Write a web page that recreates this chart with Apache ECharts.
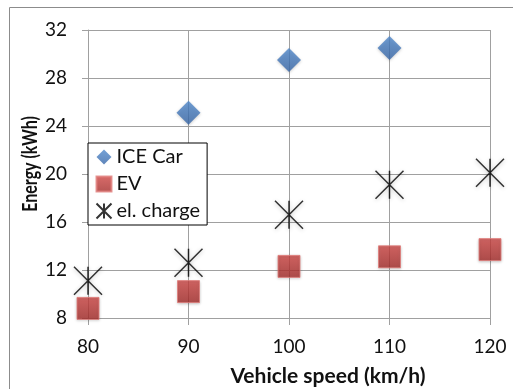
<!DOCTYPE html>
<html><head><meta charset="utf-8">
<script src="https://cdn.jsdelivr.net/npm/echarts@6/dist/echarts.min.js"></script>
<style>html,body{margin:0;padding:0;background:#fff}#c{width:513px;height:389px}</style>
</head><body><div id="c"></div>
<script>
const speeds = [80, 90, 100, 110, 120];
const iceSpeeds = [90, 100, 110];
const iceCar = [25.1, 29.5, 30.5];
const ev = [8.8, 10.2, 12.3, 13.1, 13.7];
const elCharge = [11.1, 12.6, 16.6, 19.1, 20.1];
const seriesNames = ['ICE Car', 'EV', 'el. charge'];
const xTitle = 'Vehicle speed (km/h)';
const yTitle = 'Energy (kWh)';

const FONT = 'Lato';
const chart = echarts.init(document.getElementById('c'), null, {renderer: 'canvas'});
const pair = (xs, ys) => xs.map((x, i) => [x, ys[i]]);
const starPath = 'path://M0,0L20,20M20,0L0,20M10,0L10,20';

chart.setOption({
  animation: false,
  grid: {left: 88, right: 23, top: 30, bottom: 71, containLabel: false},
  xAxis: {
    type: 'value', min: 80, max: 120, interval: 10,
    axisLine: {show: true, lineStyle: {color: '#a0a0a0', width: 1}},
    axisTick: {show: true, length: 7, lineStyle: {color: '#a0a0a0'}},
    splitLine: {show: true, lineStyle: {color: '#a0a0a0', width: 1}},
    axisLabel: {margin: 19, color: '#111', fontFamily: FONT, fontSize: 19}
  },
  yAxis: {
    type: 'value', min: 8, max: 32, interval: 4,
    axisLine: {show: true, lineStyle: {color: '#a0a0a0', width: 1}},
    axisTick: {show: true, length: 6, lineStyle: {color: '#a0a0a0'}},
    splitLine: {show: true, lineStyle: {color: '#a0a0a0', width: 1}},
    axisLabel: {margin: 21, color: '#111', fontFamily: FONT, fontSize: 19}
  },
  legend: {
    orient: 'vertical', left: 88, top: 143,
    data: seriesNames,
    backgroundColor: '#fff', borderColor: '#000', borderWidth: 1,
    padding: [4, 7, 4, 6], itemWidth: 15, itemHeight: 15, itemGap: 7, itemTextGap: 4,
    textStyle: {fontFamily: FONT, fontSize: 20, color: '#111'}
  },
  graphic: [
    {type: 'line', shape: {x1: 9.5, y1: 7.5, x2: 9.5, y2: 389}, style: {stroke: '#8c8c8c', lineWidth: 1}, silent: true},
    {type: 'line', shape: {x1: 9.5, y1: 7.5, x2: 513, y2: 7.5}, style: {stroke: '#8c8c8c', lineWidth: 1}, silent: true},
    {type: 'text', x: 328, y: 376,
      style: {text: xTitle, font: 'bold 21px ' + FONT, fill: '#111', align: 'center', verticalAlign: 'middle'}},
    {type: 'text', x: 30, y: 164, rotation: Math.PI / 2, scaleX: 1, scaleY: 1.3,
      style: {text: yTitle, font: 'bold 16px ' + FONT, fill: '#111', align: 'center', verticalAlign: 'middle'}}
  ],
  series: [
    {
      name: seriesNames[0], type: 'scatter', symbol: 'diamond', symbolSize: 24,
      data: pair(iceSpeeds, iceCar), z: 3,
      itemStyle: {
        color: new echarts.graphic.LinearGradient(0, 0, 0, 1, [{offset: 0, color: '#5089cc'}, {offset: 1, color: '#3867a8'}]),
        shadowColor: 'rgba(0,0,0,0.25)', shadowBlur: 3, shadowOffsetY: 1
      }
    },
    {
      name: seriesNames[1], type: 'scatter', symbol: 'rect', symbolSize: 22,
      data: pair(speeds, ev), z: 3,
      itemStyle: {
        color: new echarts.graphic.LinearGradient(0, 0, 0, 1, [{offset: 0, color: '#cf4644'}, {offset: 1, color: '#a32a28'}]),
        borderColor: '#e07d7b', borderWidth: 1,
        shadowColor: 'rgba(0,0,0,0.25)', shadowBlur: 3, shadowOffsetY: 1
      }
    },
    {
      name: seriesNames[2], type: 'scatter', symbol: starPath, symbolSize: 28,
      data: pair(speeds, elCharge), z: 4,
      itemStyle: {
        color: 'none', borderColor: '#000', borderWidth: 1.5,
        shadowColor: 'rgba(0,0,0,0.3)', shadowBlur: 4, shadowOffsetY: 1
      }
    }
  ]
});
</script></body></html>
